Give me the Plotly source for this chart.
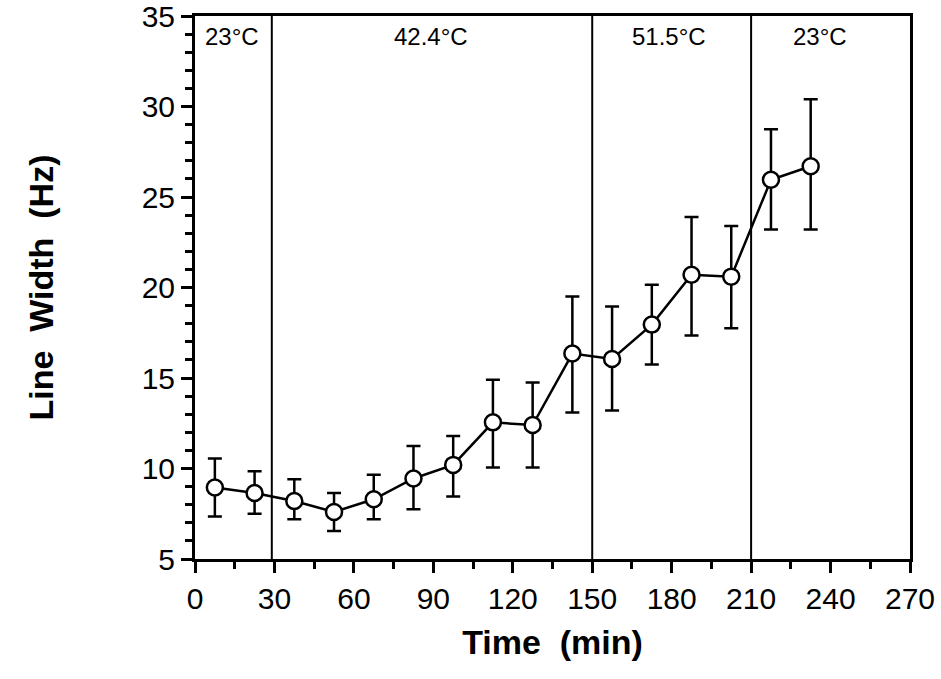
import plotly.graph_objects as go

# Data
time_min = [7.5, 22.5, 37.5, 52.5, 67.5, 82.5, 97.5, 112.5, 127.5, 142.5,
            157.5, 172.5, 187.5, 202.5, 217.5, 232.5]
line_width = [8.95, 8.65, 8.2, 7.6, 8.3, 9.45, 10.2, 12.55, 12.4, 16.35,
              16.05, 17.95, 20.7, 20.6, 25.95, 26.7]
err_upper = [10.55, 9.85, 9.4, 8.65, 9.65, 11.25, 11.8, 14.9, 14.75, 19.5,
             18.95, 20.15, 23.9, 23.4, 28.75, 30.4]
err_lower = [7.35, 7.5, 7.2, 6.55, 7.2, 7.75, 8.45, 10.05, 10.05, 13.1,
             13.2, 15.75, 17.35, 17.75, 23.2, 23.2]

phase_boundaries = [29, 150, 210]
phase_labels = ["23°C", "42.4°C", "51.5°C", "23°C"]
phase_label_x = [14, 89, 179, 236]

x_ticks = [0, 30, 60, 90, 120, 150, 180, 210, 240, 270]
y_ticks = [5, 10, 15, 20, 25, 30, 35]

plus = [u - v for u, v in zip(err_upper, line_width)]
minus = [v - l for v, l in zip(line_width, err_lower)]

FONT = "Liberation Sans, Arial, Helvetica"

fig = go.Figure()
fig.add_trace(go.Scatter(
    x=time_min, y=line_width, mode="lines+markers",
    line=dict(color="black", width=2.5),
    marker=dict(symbol="circle", size=16, color="white",
                line=dict(color="black", width=2.5)),
    error_y=dict(type="data", symmetric=False, array=plus, arrayminus=minus,
                 color="black", thickness=2.5, width=7),
    showlegend=False,
))

for b in phase_boundaries:
    fig.add_shape(type="line", xref="x", yref="y", x0=b, x1=b, y0=5, y1=35,
                  line=dict(color="black", width=2), layer="below")

for lx, lt in zip(phase_label_x, phase_labels):
    fig.add_annotation(x=lx, y=33.85, xref="x", yref="y", text=lt,
                       showarrow=False, yanchor="middle",
                       font=dict(family=FONT, size=24, color="black"))

axis_font = dict(family=FONT, size=30, color="black")
fig.update_xaxes(
    range=[0, 270], tickvals=x_ticks, ticks="outside", ticklen=11, tickwidth=3,
    tickcolor="black", showline=True, linecolor="black", linewidth=3,
    mirror=True, showgrid=False, zeroline=False, tickfont=axis_font,
    automargin=False, ticklabeloverflow="allow",
    minor=dict(dtick=15, tick0=0, ticks="outside", ticklen=7, tickwidth=2.5, tickcolor="black"),
    title=dict(text="<b>Time \u00a0(min)</b>", standoff=17,
               font=dict(family=FONT, size=34, color="black")),
)
fig.update_yaxes(
    range=[5, 35], tickvals=y_ticks, ticks="outside", ticklen=11, tickwidth=3,
    tickcolor="black", showline=True, linecolor="black", linewidth=3,
    mirror=True, showgrid=False, zeroline=False, tickfont=axis_font,
    automargin=False, ticklabeloverflow="allow",
    minor=dict(dtick=1, tick0=5, ticks="outside", ticklen=7, tickwidth=2.5, tickcolor="black"),
    title=dict(text="<b>Line \u00a0Width \u00a0(Hz)</b>", standoff=78,
               font=dict(family=FONT, size=34, color="black")),
)
fig.update_layout(
    width=941, height=679,
    margin=dict(l=195, r=31, t=16, b=120),
    plot_bgcolor="white", paper_bgcolor="white",
)
fig.write_html("out.html", config={"displayModeBar": False},
               post_script="document.body.style.margin='0';document.body.style.overflow='hidden';")
